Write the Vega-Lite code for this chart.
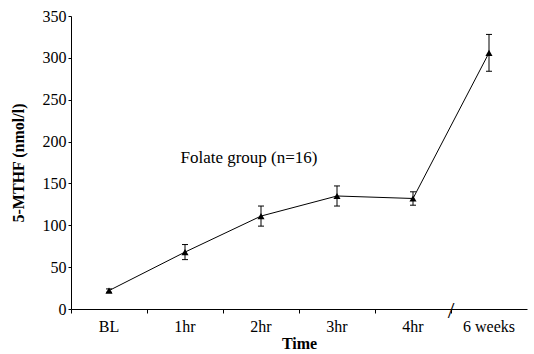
{
  "$schema": "https://vega.github.io/schema/vega-lite/v6.json",
  "width": 456,
  "height": 293,
  "autosize": {"type": "none"},
  "padding": {"left": 71, "top": 16, "right": 7, "bottom": 45},
  "background": "white",
  "config": {
    "view": {"stroke": null},
    "font": "Liberation Serif",
    "text": {"font": "Liberation Serif"},
    "axis": {"grid": false, "domainColor": "black", "tickColor": "black", "labelColor": "black", "titleColor": "black", "labelFont": "Liberation Serif", "titleFont": "Liberation Serif", "labelFontSize": 16, "titleFontSize": 16}
  },
  "data": {"values": [
    {"time": "BL", "mean": 22, "lo": 20, "hi": 24},
    {"time": "1hr", "mean": 68, "lo": 59, "hi": 77},
    {"time": "2hr", "mean": 111, "lo": 99, "hi": 123},
    {"time": "3hr", "mean": 135, "lo": 123, "hi": 147},
    {"time": "4hr", "mean": 132, "lo": 124, "hi": 140},
    {"time": "6 weeks", "mean": 306, "lo": 284, "hi": 328}
  ]},
  "encoding": {
    "x": {"field": "time", "type": "nominal", "sort": ["BL", "1hr", "2hr", "3hr", "4hr", "6 weeks"],
      "scale": {"paddingInner": 0, "paddingOuter": 0},
      "axis": {"title": "Time", "titleFontWeight": "bold", "labelAngle": 0, "bandPosition": 0, "tickSize": 4, "labelPadding": 5, "titlePadding": 1, "labelFont": "Liberation Serif"}}
  },
  "layer": [
    {
      "mark": {"type": "line", "color": "black", "strokeWidth": 1},
      "encoding": {
        "y": {"field": "mean", "type": "quantitative", "scale": {"domain": [0, 350]},
          "axis": {"title": "5-MTHF (nmol/l)", "titleFontWeight": "bold", "values": [0, 50, 100, 150, 200, 250, 300, 350], "tickSize": 3, "labelPadding": 2, "titlePadding": 16, "labelFont": "Liberation Serif"}}
      }
    },
    {
      "mark": {"type": "errorbar", "color": "black", "opacity": 1, "rule": {"color": "black", "opacity": 1}, "ticks": {"size": 6, "color": "black", "opacity": 1}, "thickness": 1},
      "encoding": {
        "y": {"field": "lo", "type": "quantitative", "scale": {"domain": [0, 350]},
          "axis": {"title": "5-MTHF (nmol/l)", "titleFontWeight": "bold", "values": [0, 50, 100, 150, 200, 250, 300, 350], "tickSize": 3, "labelPadding": 2, "titlePadding": 16, "labelFont": "Liberation Serif"}},
        "y2": {"field": "hi"}
      }
    },
    {
      "mark": {"type": "point", "shape": "triangle-up", "filled": true, "color": "black", "size": 50, "opacity": 1},
      "encoding": {"y": {"field": "mean", "type": "quantitative", "scale": {"domain": [0, 350]},
          "axis": {"title": "5-MTHF (nmol/l)", "titleFontWeight": "bold", "values": [0, 50, 100, 150, 200, 250, 300, 350], "tickSize": 3, "labelPadding": 2, "titlePadding": 16, "labelFont": "Liberation Serif"}}}
    },
    {
      "data": {"values": [{"label": "Folate group (n=16)", "time": "2hr", "v": 180}]},
      "mark": {"type": "text", "fontSize": 17, "font": "Liberation Serif", "color": "black", "dx": -12},
      "encoding": {
        "y": {"field": "v", "type": "quantitative", "scale": {"domain": [0, 350]},
          "axis": {"title": "5-MTHF (nmol/l)", "titleFontWeight": "bold", "values": [0, 50, 100, 150, 200, 250, 300, 350], "tickSize": 3, "labelPadding": 2, "titlePadding": 16, "labelFont": "Liberation Serif"}},
        "text": {"field": "label"}
      }
    },
    {
      "data": {"values": [{"mark": "/", "time": "6 weeks", "v": 0}]},
      "mark": {"type": "text", "fontSize": 24, "font": "Liberation Serif", "color": "black", "dy": 2},
      "encoding": {
        "x": {"field": "time", "type": "nominal", "bandPosition": 0, "sort": ["BL", "1hr", "2hr", "3hr", "4hr", "6 weeks"]},
        "y": {"field": "v", "type": "quantitative", "scale": {"domain": [0, 350]},
          "axis": {"title": "5-MTHF (nmol/l)", "titleFontWeight": "bold", "values": [0, 50, 100, 150, 200, 250, 300, 350], "tickSize": 3, "labelPadding": 2, "titlePadding": 16, "labelFont": "Liberation Serif"}},
        "text": {"field": "mark"}
      }
    }
  ]
}
